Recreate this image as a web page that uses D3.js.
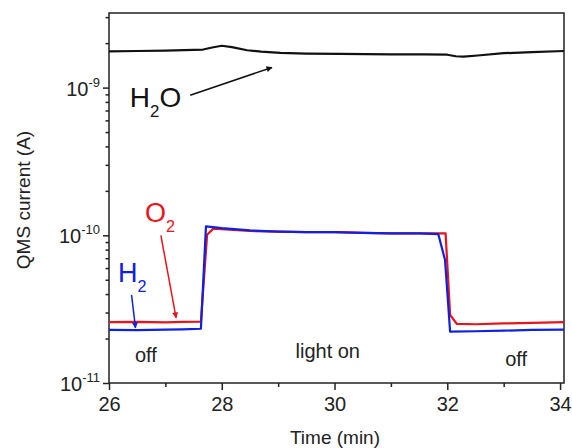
<!DOCTYPE html>
<html>
<head>
<meta charset="utf-8">
<script src="https://cdn.jsdelivr.net/npm/d3@7"></script>
<style>
  body { margin: 0; background: #fff; }
  svg text { font-family: "Liberation Sans", Arial, sans-serif; fill: #222; }
</style>
</head>
<body>
<svg id="chart" width="572" height="448"></svg>
<script>
// Data (time in min, current in A)
var h2oTime = [26.0, 26.5, 27.0, 27.67, 27.83, 28.0, 28.18, 28.45, 28.7, 29.04, 29.5, 30.1, 31.0, 31.6, 32.0, 32.15, 32.29, 32.54, 33.0, 33.5, 34.07]
var h2oValue = [1.76e-9, 1.77e-9, 1.78e-9, 1.81e-9, 1.87e-9, 1.92e-9, 1.88e-9, 1.79e-9, 1.75e-9, 1.72e-9, 1.70e-9, 1.69e-9, 1.68e-9, 1.68e-9, 1.67e-9, 1.63e-9, 1.62e-9, 1.65e-9, 1.71e-9, 1.74e-9, 1.77e-9]

var o2Time = [26.0, 26.5, 27.0, 27.3, 27.63, 27.74, 27.85, 28.2, 28.5, 29.0, 29.5, 30.0, 30.5, 31.0, 31.5, 31.97, 32.05, 32.17, 32.5, 33.0, 33.5, 34.07]
var o2Value = [2.58e-11, 2.59e-11, 2.57e-11, 2.59e-11, 2.6e-11, 1.01e-10, 1.11e-10, 1.09e-10, 1.07e-10, 1.06e-10, 1.05e-10, 1.05e-10, 1.04e-10, 1.03e-10, 1.03e-10, 1.03e-10, 2.89e-11, 2.51e-11, 2.50e-11, 2.53e-11, 2.55e-11, 2.58e-11]

var h2Time = [26.0, 26.5, 27.0, 27.3, 27.63, 27.72, 28.0, 28.5, 29.0, 29.5, 30.0, 30.5, 31.0, 31.5, 31.84, 31.96, 32.05, 32.5, 33.0, 33.5, 34.07]
var h2Value = [2.29e-11, 2.28e-11, 2.30e-11, 2.31e-11, 2.33e-11, 1.15e-10, 1.12e-10, 1.08e-10, 1.06e-10, 1.05e-10, 1.05e-10, 1.04e-10, 1.03e-10, 1.03e-10, 1.02e-10, 6.8e-11, 2.23e-11, 2.24e-11, 2.26e-11, 2.29e-11, 2.30e-11]

var xMajor = [26, 28, 30, 32, 34]
var xMinor = [27, 29, 31, 33]
var yMajor = [1e-11, 1e-10, 1e-9]
var yMajorExp = ['-11', '-10', '-9']
var yMinor = [2e-11, 3e-11, 4e-11, 5e-11, 6e-11, 7e-11, 8e-11, 9e-11,
  2e-10, 3e-10, 4e-10, 5e-10, 6e-10, 7e-10, 8e-10, 9e-10, 2e-9, 3e-9]

// text labels: [t, value] anchors
var offLabels = [[26.46, 1.39e-11, 'start'], [33.22, 1.31e-11, 'middle']]
var lightLabel = [29.88, 1.48e-11]
var h2oLabel = [26.37, 7.43e-10]
var h2oArrow = [[27.44, 8.87e-10], [28.89, 1.37e-9]]
var o2Label = [26.64, 1.24e-10]
var o2Arrow = [[26.92, 1.0e-10], [27.19, 2.76e-11]]
var h2Label = [26.16, 4.86e-11]
var h2Arrow = [[26.40, 3.95e-11], [26.47, 2.36e-11]]

// Layout
var plot = { x0: 109, x1: 564, y0: 13, y1: 383 }
var axisColor = '#222'

var svg = d3.select('#chart')
var x = d3.scaleLinear().domain([26, 34.07]).range([plot.x0, plot.x1])
var y = d3.scaleLog().domain([1e-11, 3.2e-9]).range([plot.y1, plot.y0])

// arrow markers
var defs = svg.append('defs')
function marker(id, color) {
  defs.append('marker')
    .attr('id', id)
    .attr('viewBox', '0 0 10 10')
    .attr('refX', 9).attr('refY', 5)
    .attr('markerWidth', 9).attr('markerHeight', 6)
    .attr('markerUnits', 'userSpaceOnUse')
    .attr('orient', 'auto')
    .append('path').attr('d', 'M0,0L10,5L0,10Z').attr('fill', color)
}
marker('arrK', '#111')
marker('arrR', '#e8141c')
marker('arrB', '#1020e0')

// axes
var xAxis = svg.append('g').attr('transform', 'translate(0,' + plot.y1 + ')')
  .call(d3.axisBottom(x).tickValues(xMajor).tickSize(7).tickSizeOuter(0).tickPadding(7).tickFormat(d3.format('d')))
xAxis.append('g').call(d3.axisBottom(x).tickValues(xMinor).tickSize(4).tickSizeOuter(0).tickFormat(''))
xAxis.selectAll('.domain').remove()
xAxis.selectAll('line').attr('stroke', axisColor).attr('stroke-width', 1.5)
xAxis.selectAll('text').attr('font-size', 20).attr('fill', axisColor)

var yAxis = svg.append('g').attr('transform', 'translate(' + plot.x0 + ',0)')
  .call(d3.axisLeft(y).tickValues(yMajor).tickSize(6).tickSizeOuter(0).tickFormat(''))
yAxis.append('g').call(d3.axisLeft(y).tickValues(yMinor).tickSize(3.5).tickSizeOuter(0).tickFormat(''))
yAxis.selectAll('.domain').remove()
yAxis.selectAll('line').attr('stroke', axisColor).attr('stroke-width', 1.5)

yMajor.forEach(function(v, i) {
  var t = svg.append('text')
    .attr('x', 100).attr('y', y(v) + 8)
    .attr('text-anchor', 'end')
    .attr('font-size', 20)
  t.append('tspan').text('10')
  t.append('tspan').attr('dy', -9).attr('font-size', 13).text(yMajorExp[i])
})

// frame
svg.append('rect')
  .attr('x', plot.x0).attr('y', plot.y0)
  .attr('width', plot.x1 - plot.x0).attr('height', plot.y1 - plot.y0)
  .attr('fill', 'none').attr('stroke', axisColor).attr('stroke-width', 1.5)

// axis titles
svg.append('text')
  .attr('x', 335).attr('y', 444)
  .attr('text-anchor', 'middle').attr('font-size', 19)
  .text('Time (min)')
svg.append('text')
  .attr('transform', 'translate(30,200) rotate(-90)')
  .attr('text-anchor', 'middle').attr('font-size', 19)
  .text('QMS current (A)')

// series
var line = d3.line().x(function(d) { return x(d[0]) }).y(function(d) { return y(d[1]) })
function series(ts, vs, color) {
  svg.append('path')
    .datum(d3.zip(ts, vs))
    .attr('d', line)
    .attr('fill', 'none')
    .attr('stroke', color)
    .attr('stroke-width', 2.2)
    .attr('stroke-linejoin', 'round')
}
series(h2oTime, h2oValue, '#111')
series(o2Time, o2Value, '#e8141c')
series(h2Time, h2Value, '#1020e0')

// annotations
function arrow(pts, id, color) {
  svg.append('line')
    .attr('x1', x(pts[0][0])).attr('y1', y(pts[0][1]))
    .attr('x2', x(pts[1][0])).attr('y2', y(pts[1][1]))
    .attr('stroke', color).attr('stroke-width', 1.5)
    .attr('marker-end', 'url(#' + id + ')')
}
function chem(pos, base, sub, tail, size, color) {
  var t = svg.append('text')
    .attr('x', x(pos[0])).attr('y', y(pos[1]))
    .attr('font-size', size).style('fill', color)
  t.append('tspan').text(base)
  t.append('tspan').attr('dy', 10).attr('font-size', size * 0.6).text(sub)
  if (tail) t.append('tspan').attr('dy', -10).text(tail)
}
chem(h2oLabel, 'H', '2', 'O', 28, '#111')
arrow(h2oArrow, 'arrK', '#111')
chem(o2Label, 'O', '2', '', 27, '#e8141c')
arrow(o2Arrow, 'arrR', '#e8141c')
chem(h2Label, 'H', '2', '', 27, '#1020e0')
arrow(h2Arrow, 'arrB', '#1020e0')

offLabels.forEach(function(d) {
  svg.append('text')
    .attr('x', x(d[0])).attr('y', y(d[1]))
    .attr('text-anchor', d[2]).attr('font-size', 20)
    .text('off')
})
svg.append('text')
  .attr('x', x(lightLabel[0])).attr('y', y(lightLabel[1]))
  .attr('text-anchor', 'middle').attr('font-size', 20)
  .text('light on')
</script>
</body>
</html>
